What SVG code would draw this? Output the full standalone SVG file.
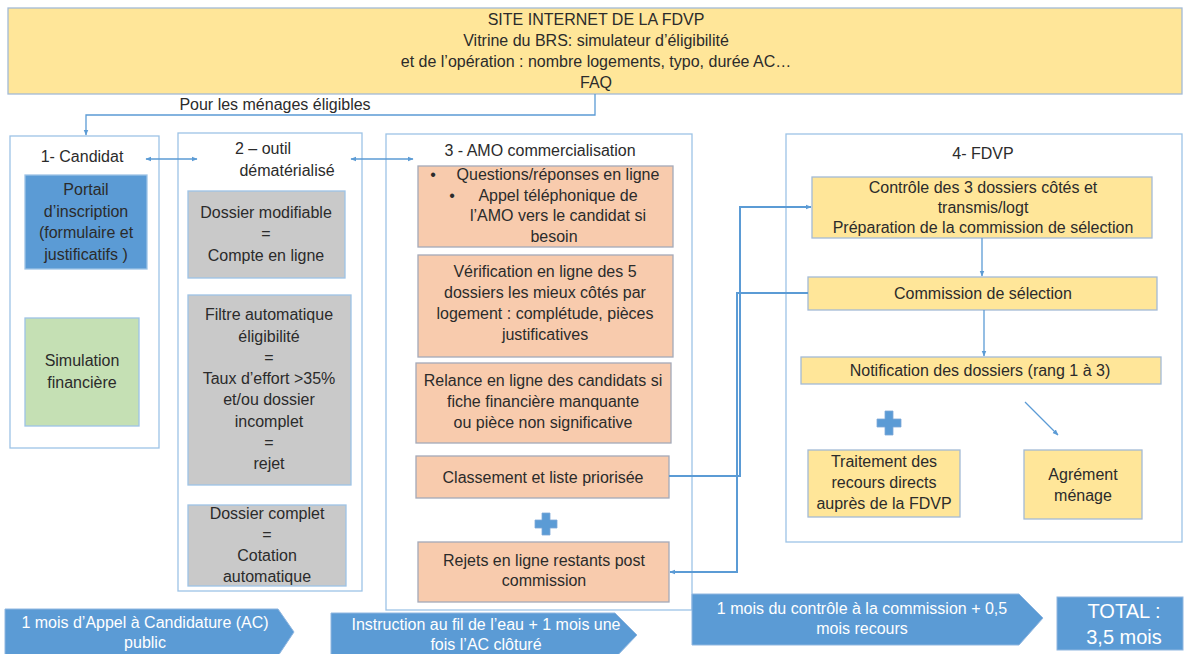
<svg xmlns="http://www.w3.org/2000/svg" width="1187" height="654" viewBox="0 0 1187 654">
<defs>
<style>
text{font-family:"Liberation Sans",Arial,sans-serif;font-size:16px;fill:#2b2b2b;text-anchor:middle}
.wt{fill:#ffffff}
.big{font-size:20px}
.frame{fill:#ffffff;stroke:#9DC3E6;stroke-width:1.3}
.yel{fill:#FFE699;stroke:#A3BAD6;stroke-width:1.3}
.blu{fill:#5B9BD5;stroke:#9DC3E6;stroke-width:1.3}
.grn{fill:#C5E0B4;stroke:#9DC3E6;stroke-width:1.3}
.gry{fill:#C9C9C9;stroke:#9DC3E6;stroke-width:1.3}
.org{fill:#F8CBAD;stroke:#A4A9B8;stroke-width:1.3}
.tl{fill:#5B9BD5;stroke:#8FB6E0;stroke-width:1}
.plus{fill:#5B9BD5;stroke:#7FA8D8;stroke-width:0.8}
.ln{fill:none;stroke:#5B9BD5;stroke-width:1.3}
.lnb{fill:none;stroke:#5B9BD5;stroke-width:2}
</style>
<marker id="ah" viewBox="0 0 10 10" refX="9" refY="5" markerWidth="6" markerHeight="6" orient="auto-start-reverse" markerUnits="userSpaceOnUse">
<path d="M0,1 L10,5 L0,9 z" fill="#5B9BD5"/>
</marker>
</defs>
<rect width="1187" height="654" fill="#ffffff"/>

<g id="site-internet">
<rect class="yel" x="8" y="8" width="1174" height="86"/>
<text x="596" y="25">SITE INTERNET DE LA FDVP</text>
<text x="596" y="46">Vitrine du BRS: simulateur d’éligibilité</text>
<text x="596" y="67">et de l’opération : nombre logements, typo, durée AC…</text>
<text x="596" y="88">FAQ</text>
</g>

<g id="label-eligibles">
<text x="275" y="110">Pour les ménages éligibles</text>
</g>

<g id="candidat">
<rect class="frame" x="10" y="136" width="149" height="312"/>
<text x="82" y="162">1- Candidat</text>
</g>
<g id="portail">
<rect class="blu" x="25" y="175" width="122" height="94"/>
<text x="86" y="195">Portail</text>
<text x="86" y="217">d’inscription</text>
<text x="86" y="238">(formulaire et</text>
<text x="86" y="260">justificatifs )</text>
</g>
<g id="simulation">
<rect class="grn" x="25" y="318" width="114" height="108"/>
<text x="82" y="366">Simulation</text>
<text x="82" y="388">financière</text>
</g>

<g id="outil">
<rect class="frame" x="178" y="133" width="184" height="458"/>
<text x="263" y="154">2 – outil</text>
<text x="287" y="176">dématérialisé</text>
</g>
<g id="dossier-modifiable">
<rect class="gry" x="188" y="191" width="157" height="87"/>
<text x="266" y="218">Dossier modifiable</text>
<text x="266" y="239">=</text>
<text x="266" y="261">Compte en ligne</text>
</g>
<g id="filtre">
<rect class="gry" x="188" y="295" width="163" height="190"/>
<text x="269" y="320">Filtre automatique</text>
<text x="269" y="342">éligibilité</text>
<text x="269" y="363">=</text>
<text x="269" y="384">Taux d’effort &gt;35%</text>
<text x="269" y="405">et/ou dossier</text>
<text x="269" y="427">incomplet</text>
<text x="269" y="448">=</text>
<text x="269" y="469">rejet</text>
</g>
<g id="dossier-complet">
<rect class="gry" x="188" y="505" width="158" height="81"/>
<text x="267" y="519">Dossier complet</text>
<text x="267" y="540">=</text>
<text x="267" y="561">Cotation</text>
<text x="267" y="582">automatique</text>
</g>

<g id="amo">
<rect class="frame" x="386" y="134" width="306" height="476"/>
<text x="540" y="156">3  - AMO commercialisation</text>
</g>
<g id="questions">
<rect class="org" x="418" y="166" width="255" height="81"/>
<text x="433" y="180">•</text>
<text x="558" y="180">Questions/réponses en ligne</text>
<text x="452" y="201">•</text>
<text x="558" y="201">Appel téléphonique de</text>
<text x="558" y="221">l’AMO vers le candidat si</text>
<text x="554" y="242">besoin</text>
</g>
<g id="verification">
<rect class="org" x="418" y="255" width="255" height="102"/>
<text x="545" y="277">Vérification en ligne des 5</text>
<text x="545" y="298">dossiers les mieux côtés par</text>
<text x="545" y="319">logement : complétude, pièces</text>
<text x="545" y="340">justificatives</text>
</g>
<g id="relance">
<rect class="org" x="416" y="363" width="255" height="80"/>
<text x="543" y="386">Relance en ligne des candidats si</text>
<text x="543" y="407">fiche financière manquante</text>
<text x="543" y="428">ou pièce non significative</text>
</g>
<g id="classement">
<rect class="org" x="416" y="456" width="253" height="42"/>
<text x="543" y="483">Classement et liste priorisée</text>
</g>
<g id="plus-amo">
<path class="plus" d="M542,513 h8 v7 h7 v8 h-7 v7 h-8 v-7 h-7 v-8 h7 z"/>
</g>
<g id="rejets">
<rect class="org" x="418" y="542" width="251" height="60"/>
<text x="544" y="566">Rejets en ligne restants post</text>
<text x="544" y="586">commission</text>
</g>

<g id="fdvp">
<rect class="frame" x="786" y="134" width="396" height="408"/>
<text x="983" y="159">4- FDVP</text>
</g>
<g id="controle">
<rect class="yel" x="812" y="177" width="340" height="61"/>
<text x="983" y="193">Contrôle des 3 dossiers côtés et</text>
<text x="983" y="213">transmis/logt</text>
<text x="983" y="233">Préparation de la commission de sélection</text>
</g>
<g id="commission">
<rect class="yel" x="808" y="277" width="349" height="33"/>
<text x="983" y="299">Commission de sélection</text>
</g>
<g id="notification">
<rect class="yel" x="801" y="357" width="360" height="27"/>
<text x="980" y="376">Notification des dossiers (rang 1 à 3)</text>
</g>
<g id="plus-fdvp">
<path class="plus" d="M885,411 h8 v8 h8 v8 h-8 v8 h-8 v-8 h-8 v-8 h8 z"/>
</g>
<g id="traitement">
<rect class="yel" x="808" y="450" width="152" height="67"/>
<text x="884" y="467">Traitement des</text>
<text x="884" y="488">recours  directs</text>
<text x="884" y="509">auprès de la FDVP</text>
</g>
<g id="agrement">
<rect class="yel" x="1024" y="450" width="118" height="69"/>
<text x="1083" y="480">Agrément</text>
<text x="1083" y="501">ménage</text>
</g>

<g id="timeline-1">
<path class="tl" d="M5,609 H278 L294,632 L278,656 H5 z"/>
<text class="wt" x="145" y="628">1 mois d’Appel à Candidature (AC)</text>
<text class="wt" x="145" y="648">public</text>
</g>
<g id="timeline-2">
<path class="tl" d="M331,613 H615 L637,635 L615,658 H331 z"/>
<text class="wt" x="486" y="630">Instruction au fil de l’eau + 1 mois une</text>
<text class="wt" x="486" y="650">fois l’AC clôturé</text>
</g>
<g id="timeline-3">
<path class="tl" d="M692,594 H1019 L1043,618 L1019,645 H692 z"/>
<text class="wt" x="862" y="614">1 mois du contrôle à la commission + 0,5</text>
<text class="wt" x="862" y="634">mois recours</text>
</g>
<g id="total">
<rect class="tl" x="1057" y="597" width="126" height="53"/>
<text class="wt big" x="1124" y="618">TOTAL :</text>
<text class="wt big" x="1124" y="644">3,5 mois</text>
</g>

<g id="connectors">
<path class="ln" d="M595,94 V115 H86 V135" marker-end="url(#ah)"/>
<path class="ln" d="M146,159 H197" marker-start="url(#ah)" marker-end="url(#ah)"/>
<path class="ln" d="M351,159 H413" marker-start="url(#ah)" marker-end="url(#ah)"/>
<path class="lnb" d="M669,476 H740 V207 H811" marker-end="url(#ah)"/>
<path class="lnb" d="M808,293 H737 V572 H670" marker-end="url(#ah)"/>
<path class="ln" d="M982,238 V276" marker-end="url(#ah)"/>
<path class="ln" d="M984,310 V356" marker-end="url(#ah)"/>
<path class="ln" d="M1025,402 L1058,435" marker-end="url(#ah)"/>
</g>
</svg>
